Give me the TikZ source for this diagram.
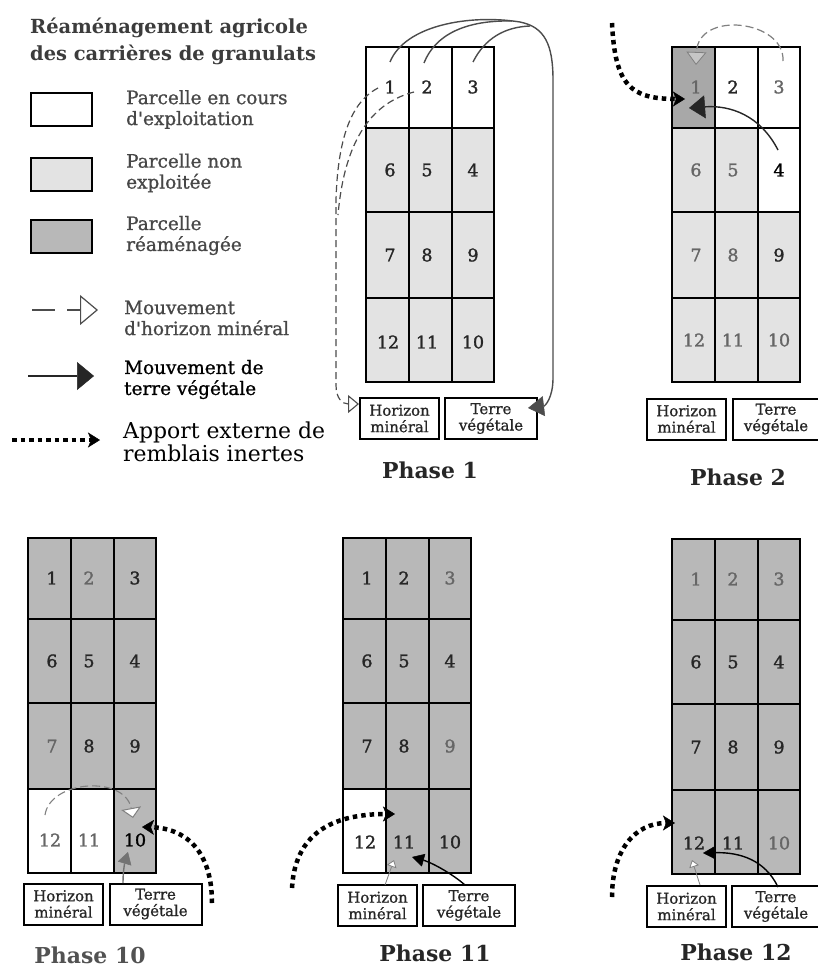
\documentclass[tikz,border=0pt]{standalone}
\usepackage{fontspec}
\setmainfont{DejaVu Serif}
\newfontfamily\heavy{DejaVu Serif}[FakeBold=1.6]
\newfontfamily\semi{DejaVu Serif}[FakeBold=1.0]
\usetikzlibrary{arrows.meta}
\definecolor{lightcell}{gray}{0.89}
\definecolor{darkcell}{gray}{0.72}
\definecolor{darkercell}{gray}{0.66}
\definecolor{ink}{gray}{0.15}
\definecolor{inkl}{gray}{0.4}
\definecolor{lineg}{gray}{0.3}
\tikzset{
  num/.style={font=\heavy\fontsize{17.5}{17.5}\selectfont, text=ink, inner sep=0pt},
  numl/.style={num, text=inkl},
  numk/.style={num, text=black},
  gridline/.style={line width=2bp, draw=black},
  stockbox/.style={draw=black, line width=2bp, fill=white, minimum height=41bp,
    align=center, inner sep=0pt, font=\semi\fontsize{15}{16.5}\selectfont, text=ink},
  hbox/.style={stockbox, minimum width=79bp},
  tbox/.style={stockbox, minimum width=92bp},
  legbox/.style={draw=black, line width=2bp, minimum width=61bp, minimum height=33bp, inner sep=0pt},
  legtext/.style={anchor=west, align=left, inner sep=0pt, font=\semi\fontsize{18.5}{21}\selectfont, text=ink!85},
  phaselabel/.style={font=\bfseries\fontsize{22}{22}\selectfont, text=ink, inner sep=0pt},
  mineral/.style={draw=lineg, line width=1.2bp, dash pattern=on 7bp off 4bp,
    -{Triangle[length=11bp, width=18bp, fill=white, line width=1.1bp]}},
  minsmall/.style={draw=gray, line width=0.8bp,
    -{Triangle[length=7bp, width=10bp, fill=white, line width=0.8bp]}},
  veget/.style={draw=lineg, line width=1.4bp,
    -{Triangle[length=16bp, width=20bp, line width=0.5bp]}},
  apport/.style={draw=black, line width=4.5bp, dash pattern=on 4.5bp off 4bp,
    -{Stealth[length=12bp, width=15bp, inset=3bp, line width=0.5bp]}},
}
\newcommand\qgrid[2]{%
  \draw[gridline] (0,0) rectangle (128,335);
  \foreach \yy in {81,165,251} \draw[gridline] (0,\yy) -- (128,\yy);
  \foreach \xx in {43,86} \draw[gridline] (\xx,0) -- (\xx,335);
  \foreach \n/\x/\y in {1/24/40,2/61/40,3/107/40,6/24/123,5/61/123,4/107/123,
      7/24/208,8/61/208,9/107/208,12/22/#2,11/61/#2,10/107/#2}
    \coordinate (#1c\n) at (\x,\y);
}
\begin{document}
\begin{tikzpicture}[x=1bp,y=-1bp]
\useasboundingbox (0,0) rectangle (818,969);
\fill[white] (0,0) rectangle (818,969);

% ---------------- legend ----------------
\node[anchor=west, align=left, inner sep=0pt, text=ink!90, font=\bfseries\fontsize{19.5}{27}\selectfont]
  (title) at (30,41.5) {Réaménagement agricole\\des carrières de granulats};
\node[legbox, fill=white] (lg1) at (61.5,109.5) {};
\node[legbox, fill=lightcell] (lg2) at (61.5,174.5) {};
\node[legbox, fill=darkcell] (lg3) at (61.5,236) {};
\node[legtext] (lt1) at (126,109.5) {Parcelle en cours\\d'exploitation};
\node[legtext] (lt2) at (126,173) {Parcelle non\\exploitée};
\node[legtext] (lt3) at (126,235.5) {Parcelle\\réaménagée};
\node[legtext] (lt4) at (124,318) {Mouvement\\d'horizon minéral};
\node[legtext, text=black] (lt5) at (124,379.5) {Mouvement de\\terre végétale};
\node[anchor=west, align=left, inner sep=0pt, text=black, font=\fontsize{22}{23}\selectfont]
  (lt6) at (123,441.5) {Apport externe de\\remblais inertes};
\coordinate (la1) at (32,310); \coordinate (lb1) at (98,310);
\coordinate (la2) at (28,376); \coordinate (lb2) at (94,376);
\coordinate (la3) at (12,440); \coordinate (lb3) at (100,440);
\draw[draw=lineg, line width=1.2bp, dash pattern=on 23bp off 12bp,
  -{Triangle[length=18bp, width=30bp, fill=white, line width=1.2bp]}] (la1) -- (lb1);
\draw[draw=ink, line width=1.6bp, -{Triangle[length=17bp, width=28bp, line width=0.5bp]}] (la2) -- (lb2);
\draw[apport] (la3) -- (lb3);

% ---------------- Phase 1 ----------------
\begin{scope}[shift={(366,47)}]
  \fill[lightcell] (0,81) rectangle (128,335);
  \qgrid{a}{295}
\end{scope}
\foreach \n/\s in {1/num,2/num,3/num,6/num,5/num,4/num,7/num,8/num,9/num,12/num,11/num,10/num}
  \node[\s] (a-\n) at (ac\n) {\n};
\node[hbox] (h1) at (399.5,418.5) {Horizon\\minéral};
\node[tbox] (t1) at (491,418.5) {Terre\\végétale};
\node[phaselabel] (ph1) at (430,470) {Phase 1};
\coordinate (a1s) at (390,62); \coordinate (a2s) at (424,63); \coordinate (a3s) at (473,62);
\coordinate (atip) at (528,408);
\draw[veget] (a1s) .. controls (405,25) and (470,14) .. (520,22)
  .. controls (545,27) and (553,45) .. (553,80) -- (553,378)
  .. controls (553,398) and (545,406) .. (atip);
\draw[draw=lineg, line width=1.4bp] (a2s) .. controls (435,35) and (465,20) .. (512,21);
\draw[draw=lineg, line width=1.4bp] (a3s) .. controls (485,38) and (505,27) .. (530,26);
\coordinate (a1d) at (378,88); \coordinate (a2d) at (414,92); \coordinate (amtip) at (359,404);
\draw[mineral] (a1d) .. controls (355,100) and (338,130) .. (336,200) -- (336,385)
  .. controls (336,398) and (342,404) .. (amtip);
\draw[draw=lineg, line width=1.2bp, dash pattern=on 7bp off 4bp]
  (a2d) .. controls (375,102) and (345,135) .. (338,215);

% ---------------- Phase 2 ----------------
\begin{scope}[shift={(672,47)}]
  \fill[lightcell] (0,81) rectangle (128,335);
  \fill[white] (86,81) rectangle (128,165);
  \fill[darkercell] (0,0) rectangle (43,81);
  \qgrid{b}{293}
\end{scope}
\foreach \n/\s in {1/numl,2/num,3/numl,6/numl,5/numl,4/numk,7/numl,8/numl,9/num,12/numl,11/numl,10/numl}
  \node[\s] (b-\n) at (bc\n) {\n};
\node[hbox] (h2) at (686.5,419) {Horizon\\minéral};
\node[stockbox, minimum width=86bp] (t2) at (776,419) {Terre\\végétale};
\node[phaselabel] (ph2) at (738,477) {Phase 2};
\coordinate (b3d) at (783,61); \coordinate (bmtip) at (696,65);
\draw[draw=gray, line width=1.2bp, dash pattern=on 8bp off 4bp,
  -{Triangle[length=13bp, width=20bp, fill=gray!45, line width=0.8bp]}]
  (b3d) .. controls (785,20) and (698,10) .. (bmtip);
\coordinate (b4s) at (778,150); \coordinate (bvtip) at (689,108);
\draw[veget, draw=ink, -{Triangle[length=16bp, width=23bp, line width=0.5bp]}]
  (b4s) .. controls (760,115) and (730,105) .. (bvtip);
\coordinate (bas) at (612,23); \coordinate (batip) at (685,99);
\draw[apport] (bas) .. controls (615,85) and (630,99) .. (batip);

% ---------------- Phase 10 ----------------
\begin{scope}[shift={(28,538)}]
  \fill[darkcell] (0,0) rectangle (128,335);
  \fill[white] (0,251) rectangle (86,335);
  \qgrid{c}{302}
\end{scope}
\foreach \n/\s in {1/num,2/numl,3/num,6/num,5/num,4/num,7/numl,8/num,9/num,12/numl,11/numl,10/numk}
  \node[\s] (c-\n) at (cc\n) {\n};
\node[hbox] (h10) at (63.5,904) {Horizon\\minéral};
\node[tbox] (t10) at (155.5,904) {Terre\\végétale};
\node[phaselabel, text=inkl!80!black] (ph10) at (90,955) {Phase 10};
\coordinate (c12d) at (45,815); \coordinate (cmtip) at (133,818);
\draw[draw=gray, line width=1.1bp, dash pattern=on 8bp off 4bp,
  -{Triangle[length=10bp, width=20bp, fill=white, line width=1bp]}]
  (c12d) .. controls (50,780) and (125,775) .. (cmtip);
\coordinate (cvs) at (123,883); \coordinate (cvtip) at (128,852);
\draw[draw=gray!90!black, line width=1.4bp, -{Triangle[length=12bp, width=14bp, line width=0.5bp]}]
  (cvs) .. controls (123,870) and (125,862) .. (cvtip);
\coordinate (cas) at (212,903); \coordinate (catip) at (142,827);
\draw[apport] (cas) .. controls (212,850) and (185,828) .. (catip);

% ---------------- Phase 11 ----------------
\begin{scope}[shift={(343,538)}]
  \fill[darkcell] (0,0) rectangle (128,335);
  \fill[white] (0,251) rectangle (43,335);
  \qgrid{d}{304}
\end{scope}
\foreach \n/\s in {1/num,2/num,3/numl,6/num,5/num,4/num,7/num,8/num,9/numl,12/num,11/num,10/num}
  \node[\s] (d-\n) at (dc\n) {\n};
\node[hbox] (h11) at (377.5,905.5) {Horizon\\minéral};
\node[tbox] (t11) at (469,905.5) {Terre\\végétale};
\node[phaselabel] (ph11) at (435,953) {Phase 11};
\coordinate (das) at (292,888); \coordinate (datip) at (395,814);
\draw[apport] (das) .. controls (295,835) and (330,814) .. (datip);
\coordinate (dms) at (385,885); \coordinate (dmtip) at (394,860);
\draw[minsmall] (dms) -- (dmtip);
\coordinate (dvs) at (465,885); \coordinate (dvtip) at (412,857);
\draw[draw=black, line width=1.4bp, -{Triangle[length=12bp, width=13bp, line width=0.5bp]}]
  (dvs) .. controls (450,872) and (430,862) .. (dvtip);

% ---------------- Phase 12 ----------------
\begin{scope}[shift={(672,539)}]
  \fill[darkcell] (0,0) rectangle (128,335);
  \qgrid{e}{304}
\end{scope}
\foreach \n/\s in {1/numl,2/numl,3/numl,6/num,5/num,4/num,7/num,8/num,9/num,12/num,11/num,10/numl}
  \node[\s] (e-\n) at (ec\n) {\n};
\node[hbox] (h12) at (686.5,906.5) {Horizon\\minéral};
\node[stockbox, minimum width=88bp] (t12) at (776,906.5) {Terre\\végétale};
\node[phaselabel] (ph12) at (736,952) {Phase 12};
\coordinate (eas) at (612,897); \coordinate (eatip) at (675,823);
\draw[apport] (eas) .. controls (612,850) and (635,823) .. (eatip);
\coordinate (ems) at (700,885); \coordinate (emtip) at (692,860);
\draw[minsmall] (ems) -- (emtip);
\coordinate (evs) at (778,887); \coordinate (evtip) at (703,853);
\draw[draw=black, line width=1.4bp, -{Triangle[length=12bp, width=13bp, line width=0.5bp]}]
  (evs) .. controls (765,860) and (740,852) .. (evtip);
\end{tikzpicture}
\end{document}
